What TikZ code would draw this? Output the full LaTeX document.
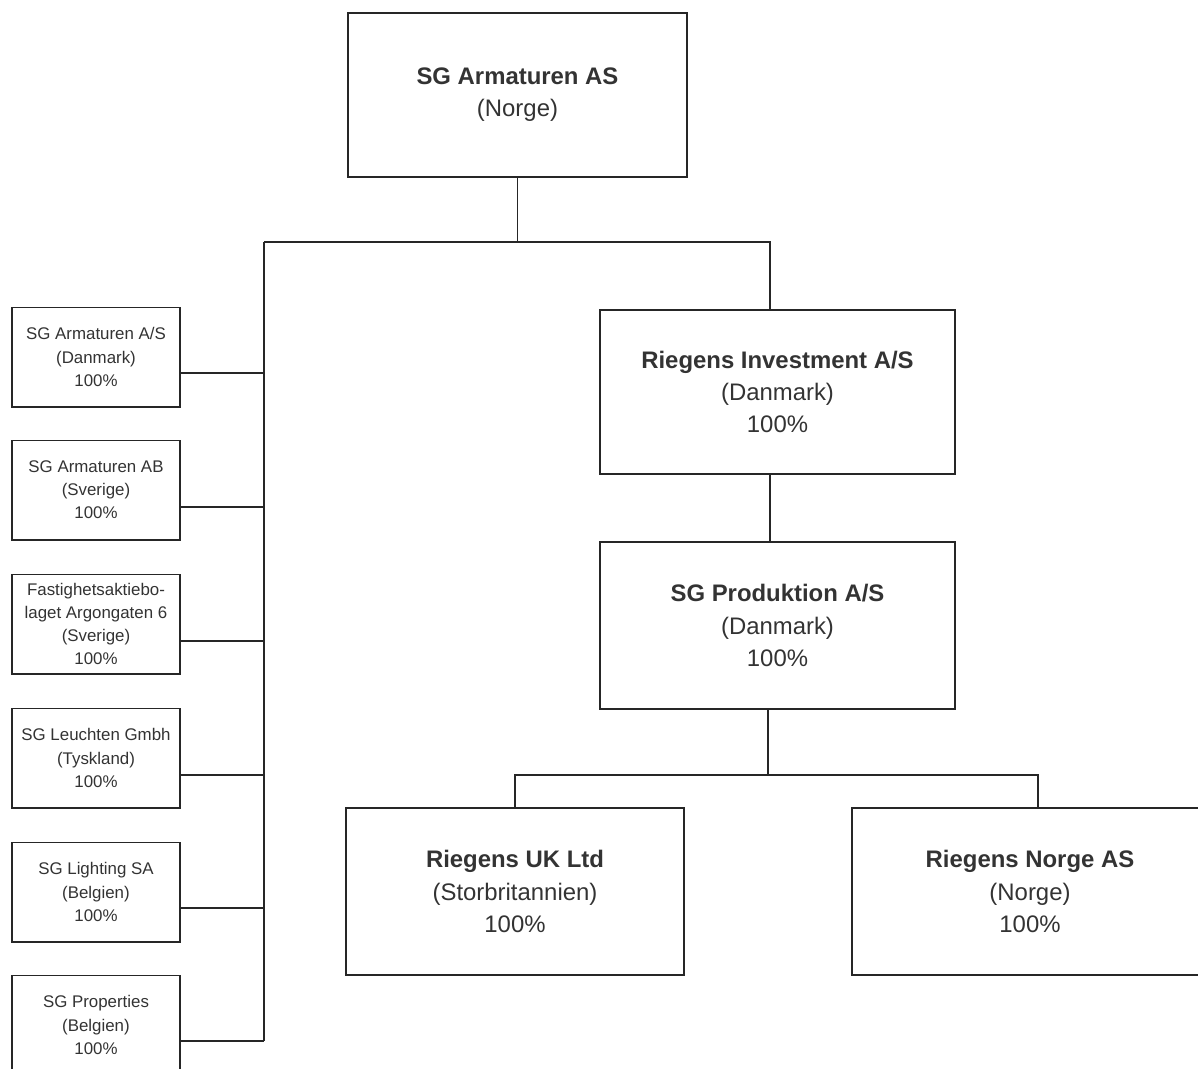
\documentclass[tikz,border=0pt]{standalone}
\usepackage{fontspec}
\setmainfont{Liberation Sans}
\usetikzlibrary{positioning}

\begin{document}
\begin{tikzpicture}[
    x=0.025cm, y=-0.025cm,
    line/.style  = {line width=1.4pt, draw=black!85},
    unit/.style  = {draw=black!85, line width=1.4pt, align=center,
                    text=black!80, inner sep=0pt},
    big/.style   = {unit, font={\fontsize{17}{22.8}\selectfont}},
    small/.style = {unit, font={\fontsize{12}{16.4}\selectfont},
                    minimum width=4.2cm, minimum height=2.475cm}
]
\useasboundingbox (0,0) rectangle (1198,1068);

% Parent company
\node[big, minimum width=8.475cm, minimum height=4.1cm] (top) at (517.5, 95)
    {\textbf{SG Armaturen AS}\\(Norge)};

% Danish holding chain
\node[big, minimum width=8.875cm, minimum height=4.1cm] (inv)  at (777.5, 392)
    {\textbf{Riegens Investment A/S}\\(Danmark)\\100\%};
\node[big, minimum width=8.875cm, minimum height=4.175cm] (prod) at (777.5, 625.5)
    {\textbf{SG Produktion A/S}\\(Danmark)\\100\%};
\node[big, minimum width=8.45cm, minimum height=4.175cm] (uk)    at (515, 891.5)
    {\textbf{Riegens UK Ltd}\\(Storbritannien)\\100\%};
\node[big, minimum width=8.9cm, minimum height=4.175cm] (norge) at (1030, 891.5)
    {\textbf{Riegens Norge AS}\\(Norge)\\100\%};

% Directly owned subsidiaries (left column)
\foreach \i/\y/\txt in {
    1/357/{SG Armaturen A/S\\(Danmark)\\100\%},
    2/490/{SG Armaturen AB\\(Sverige)\\100\%},
    3/624/{Fastighetsaktiebo-\\laget Argongaten 6\\(Sverige)\\100\%},
    4/758/{SG Leuchten Gmbh\\(Tyskland)\\100\%},
    5/892/{SG Lighting SA\\(Belgien)\\100\%},
    6/1025/{SG Properties\\(Belgien)\\100\%}}
    \node[small] (sub\i) at (96, \y) {\txt};

% Top level bus
\coordinate (busL) at (264, 242);
\coordinate (busR) at (770, 242);
\draw[line] (top.south) -- (top.south |- busL);
\draw[line] (busL) -- (busR) -- (busR |- inv.north);

% Left bus with branches
\foreach \i/\y in {1/373, 2/507, 3/641, 4/775, 5/908, 6/1041}
    \coordinate (j\i) at (264, \y);
\draw[line] (busL) -- (j6);
\foreach \i in {1,...,6}
    \draw[line] (sub\i.east |- j\i) -- (j\i);

% Holding chain
\draw[line] (inv.south -| busR) -- (prod.north -| busR);
\coordinate (split)  at (768, 775);
\coordinate (splitR) at (1038, 775);
\draw[line] (prod.south -| split) -- (split);
\draw[line] (uk.north) |- (splitR) -- (splitR |- norge.north);

\end{tikzpicture}
\end{document}
